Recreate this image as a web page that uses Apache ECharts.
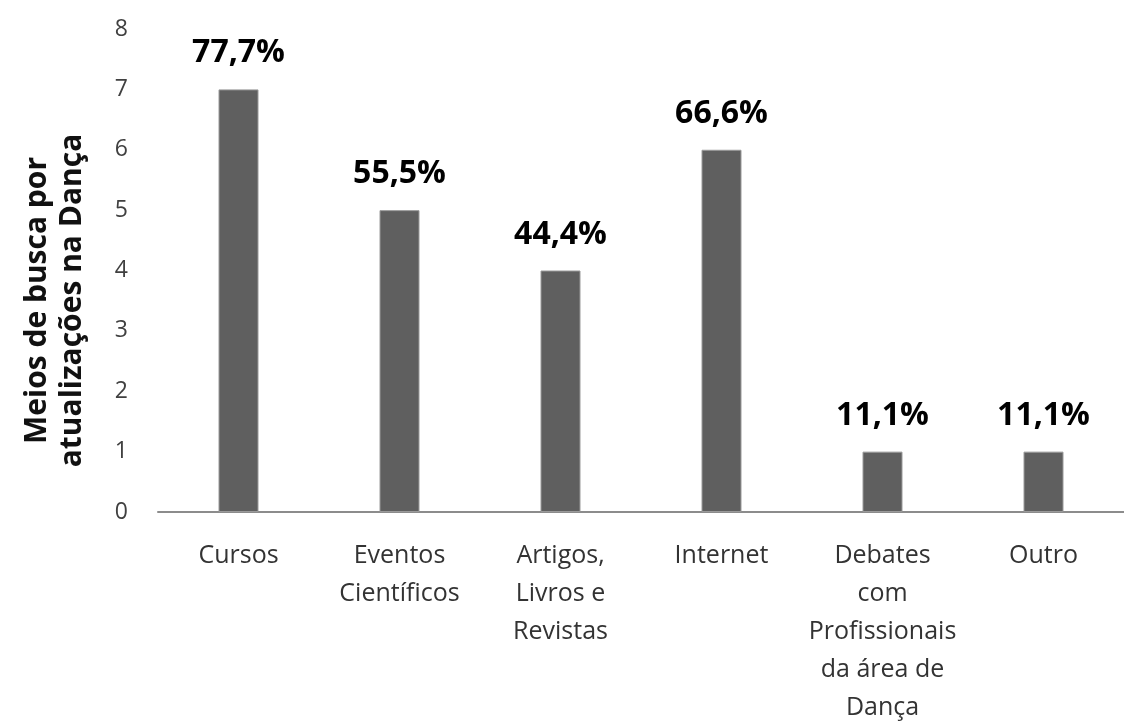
<!DOCTYPE html>
<html>
<head>
<meta charset="utf-8">
<script src="https://cdn.jsdelivr.net/npm/echarts@6/dist/echarts.min.js"></script>
<style>
  html, body { margin: 0; padding: 0; background: #fff; }
  #chart { width: 1124px; height: 727px; }
</style>
</head>
<body>
<div id="chart"></div>
<script>
// categories as printed under the axis (line breaks kept)
var categories = [
    'Cursos',
    'Eventos\nCientíficos',
    'Artigos,\nLivros e\nRevistas',
    'Internet',
    'Debates\ncom\nProfissionais\nda área de\nDança',
    'Outro'
];
var counts = [7, 5, 4, 6, 1, 1];
var percentLabels = ['77,7%', '55,5%', '44,4%', '66,6%', '11,1%', '11,1%'];
var yTicks = [0, 1, 2, 3, 4, 5, 6, 7, 8];
var yTitle = 'Meios de busca por\natualizações na Dança';

var chart = echarts.init(document.getElementById('chart'));

chart.setOption({
    animation: false,
    textStyle: { fontFamily: 'Open Sans' },
    grid: {
        left: 158,
        top: 29,
        width: 982,
        bottom: 211
    },
    xAxis: {
        type: 'category',
        data: categories,
        axisLine: { lineStyle: { color: '#8c8c8c', width: 2 } },
        axisTick: { show: false },
        axisLabel: {
            fontSize: 25,
            lineHeight: 38,
            color: '#333',
            margin: 25,
            interval: 0
        }
    },
    yAxis: {
        type: 'value',
        min: yTicks[0],
        max: yTicks[yTicks.length - 1],
        interval: 1,
        name: yTitle,
        nameLocation: 'middle',
        nameGap: 68,
        nameTextStyle: {
            fontSize: 30,
            fontWeight: 'bold',
            color: '#111',
            lineHeight: 35,
            // push the rotated title a little down the axis, like the original
            padding: [0, 60, 0, 0]
        },
        axisLine: { show: false },
        axisTick: { show: false },
        splitLine: { show: false },
        axisLabel: {
            fontSize: 23,
            color: '#404040',
            margin: 30
        }
    },
    series: [
        {
            type: 'bar',
            data: counts,
            barWidth: 40,
            itemStyle: {
                color: '#5f5f5f',
                borderColor: '#9a9a9a',
                borderWidth: 1
            },
            label: {
                show: true,
                position: 'top',
                distance: 20,
                fontSize: 32,
                fontWeight: 'bold',
                color: '#000',
                formatter: function (p) {
                    return percentLabels[p.dataIndex];
                }
            }
        }
    ]
});
</script>
</body>
</html>
